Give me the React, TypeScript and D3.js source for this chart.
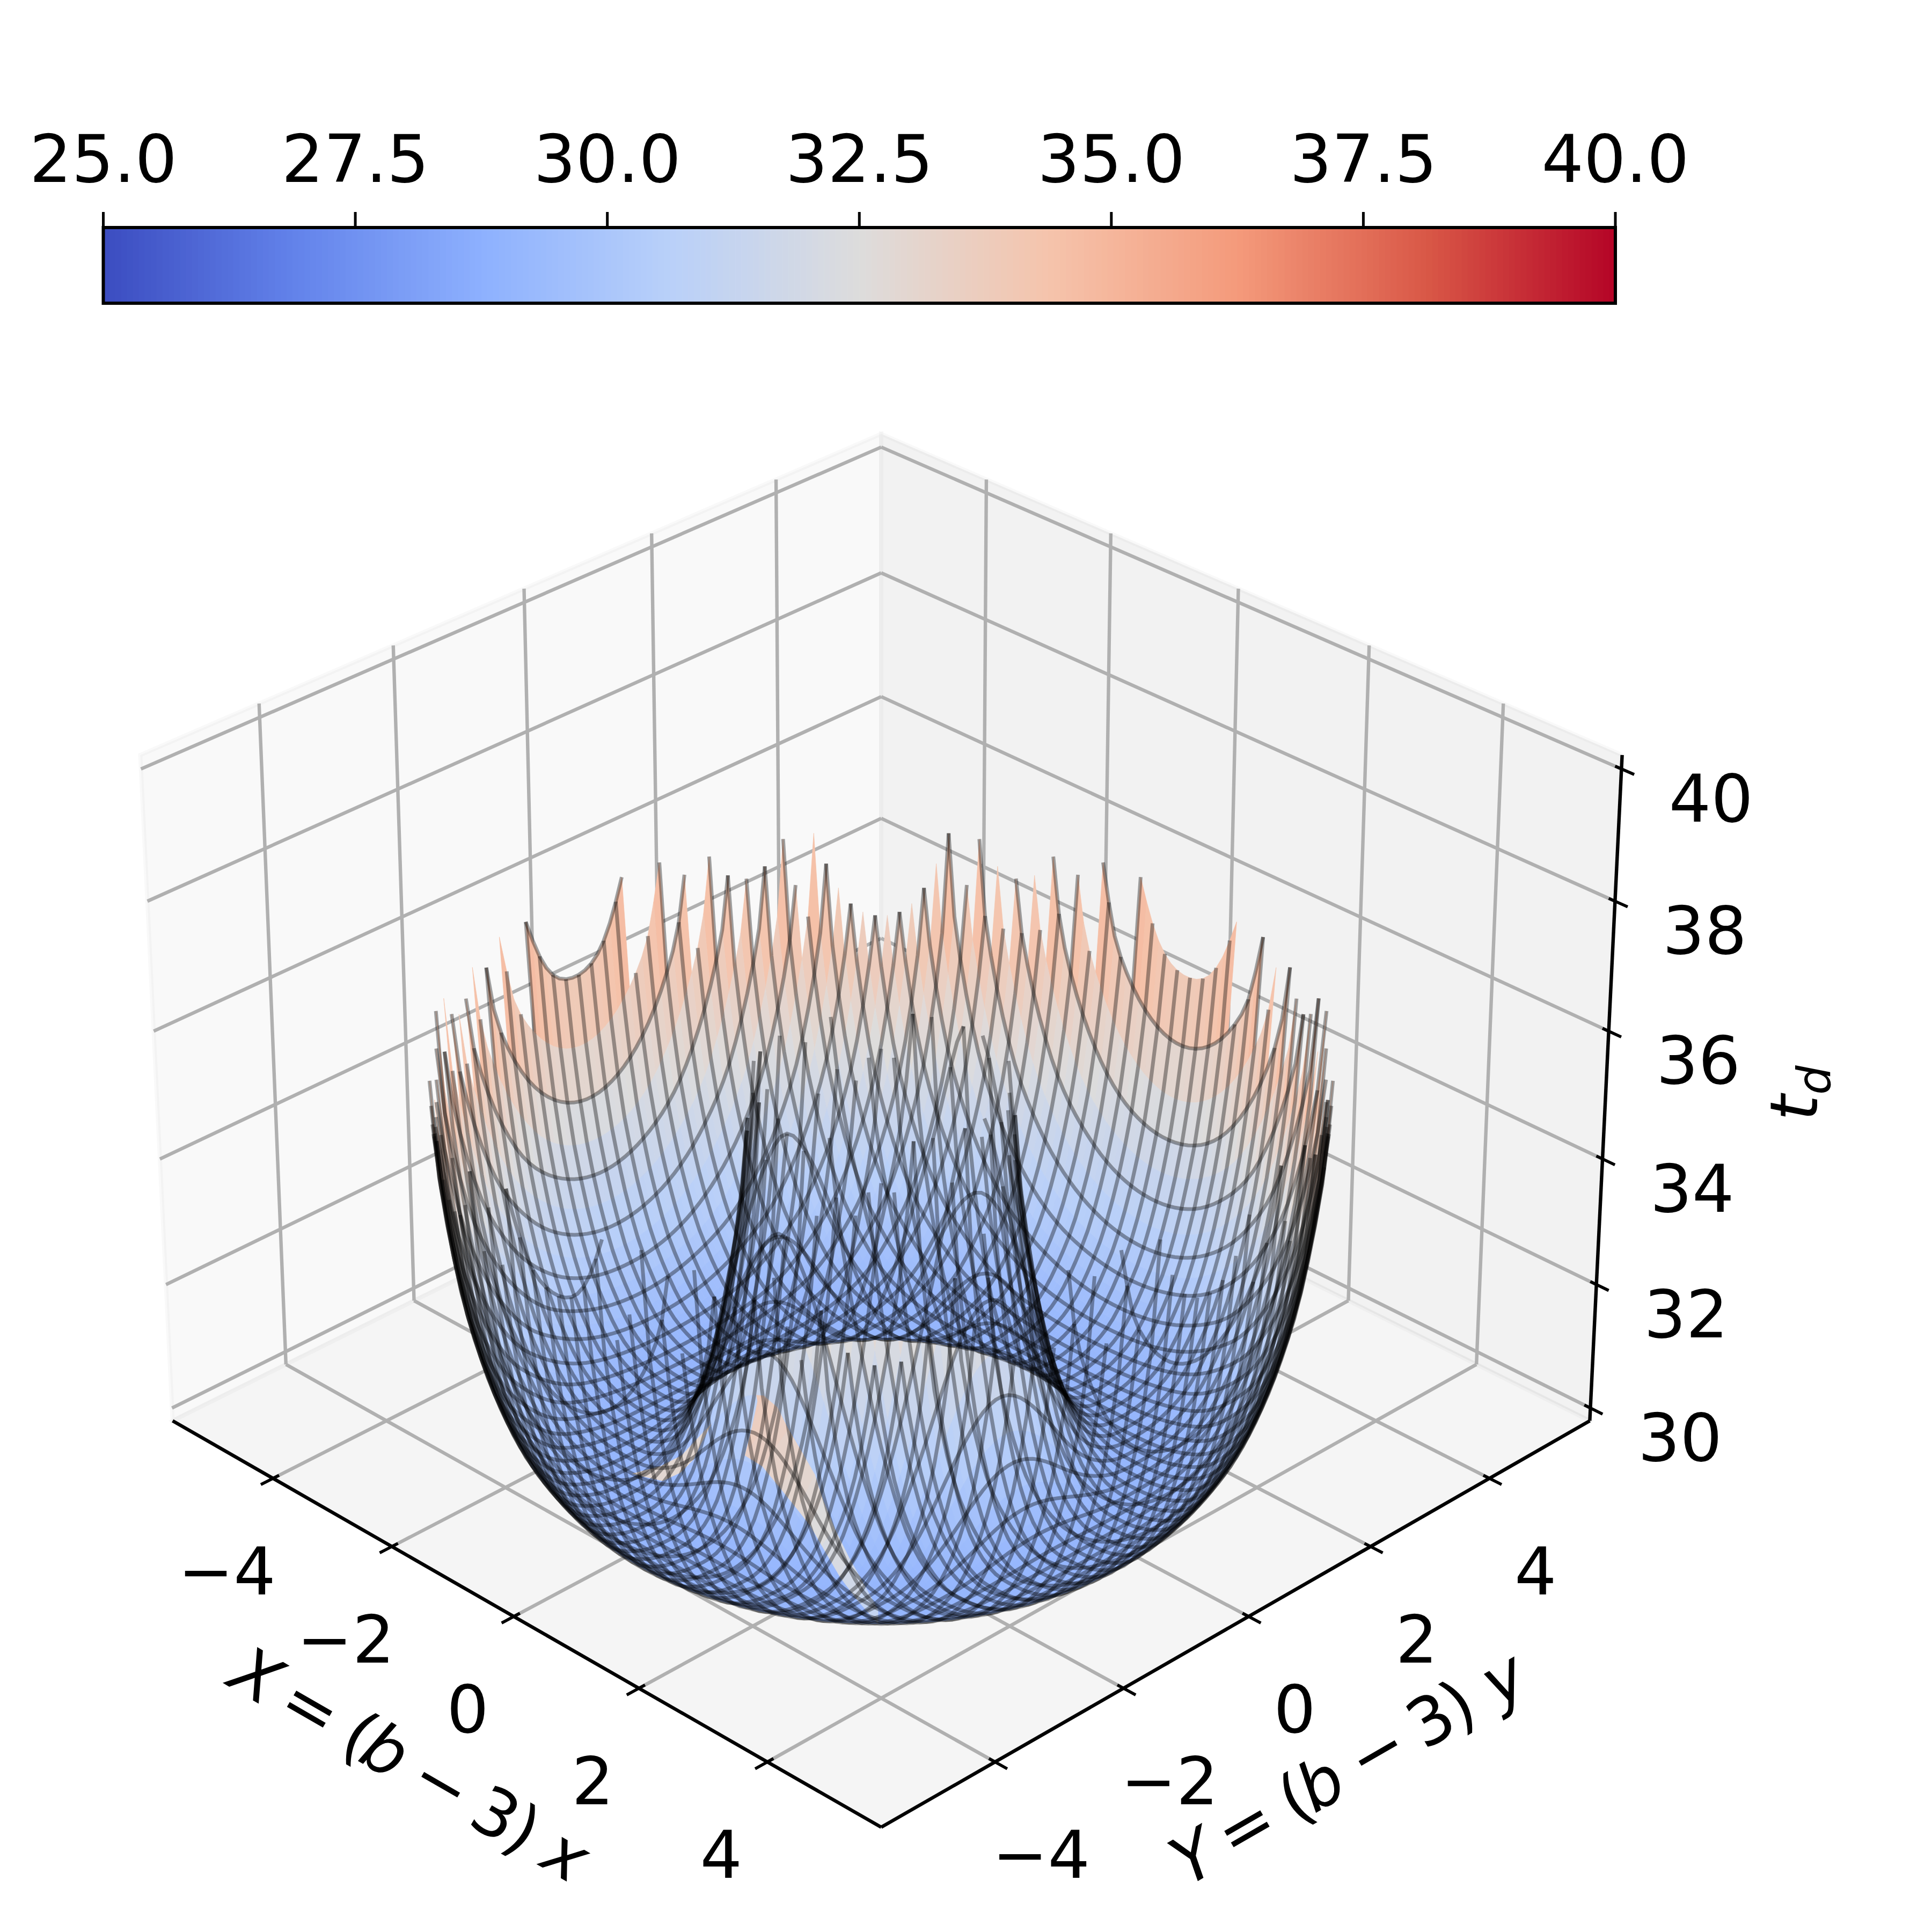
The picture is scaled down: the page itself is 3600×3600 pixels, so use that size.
import React from "react";
import * as d3 from "d3";

// ---- data ----
const colorbarTicks = [25, 27.5, 30, 32.5, 35, 37.5, 40];
const xyTicks = [-4, -2, 0, 2, 4];
const zTicks = [30, 32, 34, 36, 38, 40];
// radial profile of the surface t_d(r)
const profileR = [1.3, 1.45, 1.52, 1.6, 1.8, 2.0, 2.27, 2.6, 3.0, 3.4, 3.8, 4.19, 4.39, 4.6, 4.8, 5.0, 5.06, 5.2];
const profileZ = [37.5, 35.7, 34.3, 33.2, 31.6, 30.5, 29.6, 29.17, 29.1, 29.2, 29.5, 30.16, 30.7, 31.5, 32.6, 34.45, 35.75, 39];
const surfaceClip = 35.85;
const innerRadius = 1.47;
const gridCount = 100;
const gridHalf = 5;
const wireStride = 2;
const coolwarmStops = ["#3b4cc0", "#6282ea", "#8db0fe", "#b9d0f9", "#dddcdc", "#f5c4ac", "#f49a7b", "#d95847", "#b40426"];
// pale streaks left on the front of the bowl (floor position, and the value that colours them)
const streakRightX = [-1.205, -1.135, -0.85, -0.42, 0.05, 0.47, 0.895, 1.415, 1.95, 2.5, 2.93];
const streakRightY = [-0.815, -0.765, -0.83, -1.07, -1.31, -1.53, -1.825, -2.155, -2.46, -2.75, -2.98];
const streakLeftX = [-1.1, -0.78, -0.375, -0.075, 0.39, 0.86, 1.19, 1.58, 2.175, 2.635, 3.125];
const streakLeftY = [-0.9, -1.29, -1.805, -1.825, -2.0, -2.18, -2.31, -2.51, -2.815, -3.005, -3.175];
const streakValue = [33.8, 33.8, 33.6, 33.4, 33.2, 33.0, 32.8, 32.5, 32.2, 31.8, 31.2];
const sliverX = [-1.13, -1.04, -0.885, -0.89, -1.005, -0.85, -0.645, -0.63, -0.725, -0.92];
const sliverY = [-1.6, -1.87, -2.315, -2.64, -2.975, -2.92, -2.835, -2.57, -2.275, -1.96];
const sliverValue = 32.9;

// ---- geometry ----
const W = 3600;
const limXY = 5.5;
const limZ = [30, 40];
const padXY = (2 * limXY) / 48;
const padZ = (limZ[1] - limZ[0]) / 48;
const eyeDist = 10;
const boxScale = 1.8294640721620434 / Math.hypot(4, 4, 3);
const bx = 4 * boxScale;
const bz = 3 * boxScale;
const wx = d3.scaleLinear([-limXY, limXY], [-bx / 2, bx / 2]);
const wz = d3.scaleLinear(limZ, [-bz / 2, bz / 2]);
const el = (30 * Math.PI) / 180;
const az = (-45 * Math.PI) / 180;
const n = [Math.cos(el) * Math.cos(az), Math.cos(el) * Math.sin(az), Math.sin(el)];
const u = [Math.SQRT1_2, Math.SQRT1_2, 0];
const v = [n[1] * u[2] - n[2] * u[1], n[2] * u[0] - n[0] * u[2], n[0] * u[1] - n[1] * u[0]];
const screenScale = 16035;
const cx = 1642;
const cy = 2041;

function project(X: number, Y: number, Z: number) {
  const p = [wx(X), wx(Y), wz(Z)];
  const dot = (a: number[]) => a[0] * p[0] + a[1] * p[1] + a[2] * p[2];
  const depth = eyeDist - dot(n);
  return [cx + (screenScale * dot(u)) / depth, cy - (screenScale * dot(v)) / depth, depth];
}

// cubic lookup along the profile
const slopes = profileR.map((r, i) => {
  const a = Math.max(i - 1, 0);
  const b = Math.min(i + 1, profileR.length - 1);
  return (profileZ[b] - profileZ[a]) / (profileR[b] - profileR[a]);
});
function profile(r: number) {
  if (r <= profileR[0] || r >= profileR[profileR.length - 1]) return NaN;
  const i = d3.bisectRight(profileR, r) - 1;
  const h = profileR[i + 1] - profileR[i];
  const t = (r - profileR[i]) / h;
  const t2 = t * t;
  const t3 = t2 * t;
  return (
    (2 * t3 - 3 * t2 + 1) * profileZ[i] +
    (t3 - 2 * t2 + t) * h * slopes[i] +
    (-2 * t3 + 3 * t2) * profileZ[i + 1] +
    (t3 - t2) * h * slopes[i + 1]
  );
}

const gridValues = d3.range(gridCount).map((i) => -gridHalf + (2 * gridHalf * i) / (gridCount - 1));
const zGrid = gridValues.map((X) =>
  gridValues.map((Y) => {
    const r = Math.hypot(X, Y);
    if (r < innerRadius) return NaN;
    const z = profile(r);
    return z <= surfaceClip ? z : NaN;
  })
);

const colorStep = d3.scaleLinear<string>()
  .domain(coolwarmStops.map((_, i) => i / (coolwarmStops.length - 1)))
  .range(coolwarmStops)
  .interpolate(d3.interpolateRgb);
const colorNorm = d3.scaleLinear([25, 40], [0, 1]);
const colorOf = (z: number) => colorStep(colorNorm(z));

type Cell = { d: string; color: string; depth: number };
const cells: Cell[] = [];
for (let i = 0; i < gridCount - 1; i++) {
  for (let j = 0; j < gridCount - 1; j++) {
    const corners = [[i, j], [i + 1, j], [i + 1, j + 1], [i, j + 1]].filter(([a, b]) => !isNaN(zGrid[a][b]));
    if (corners.length < 4) continue;
    const pts = corners.map(([a, b]) => project(gridValues[a], gridValues[b], zGrid[a][b]));
    const avgZ = d3.mean(corners, ([a, b]) => zGrid[a][b]) as number;
    cells.push({
      d: "M" + pts.map((q) => q[0].toFixed(1) + "," + q[1].toFixed(1)).join("L") + "Z",
      color: colorOf(avgZ),
      depth: d3.mean(pts, (q) => q[2]) as number,
    });
  }
}
cells.sort((a, b) => a.depth - b.depth);

const wireLine = d3.line<{ x: number; y: number; ok: boolean }>()
  .defined((d) => d.ok)
  .x((d) => d.x)
  .y((d) => d.y);
const wirePaths: string[] = [];
for (let i = 0; i < gridCount; i += wireStride) {
  wirePaths.push(
    wireLine(gridValues.map((Y, j) => {
      const z = zGrid[i][j];
      const q = project(gridValues[i], Y, isNaN(z) ? 30 : z);
      return { x: q[0], y: q[1], ok: !isNaN(z) };
    })) as string
  );
  wirePaths.push(
    wireLine(gridValues.map((X, j) => {
      const z = zGrid[j][i];
      const q = project(X, gridValues[i], isNaN(z) ? 30 : z);
      return { x: q[0], y: q[1], ok: !isNaN(z) };
    })) as string
  );
}

const lo = -limXY - padXY;
const hi = limXY + padXY;
const zLo = limZ[0] - padZ;
const zHi = limZ[1] + padZ;
const poly = (pts: number[][]) => pts.map((q) => { const s = project(q[0], q[1], q[2]); return s[0] + "," + s[1]; }).join(" ");
const seg = (a: number[], b: number[], key: string, stroke: string, sw: number) => {
  const s = project(a[0], a[1], a[2]);
  const t = project(b[0], b[1], b[2]);
  return <line key={key} x1={s[0]} y1={s[1]} x2={t[0]} y2={t[1]} stroke={stroke} strokeWidth={sw} />;
};

const gridColor = "#b0b0b0";
const gridW = 6.4;
const axisW = 6.4;
const tickW = 5.6;
const fontFamily = "'DejaVu Sans'";
const fontSize = 123.5;
const capShift = 45;
const tickDelta = (2 * limXY) / 12;
const barScale = d3.scaleLinear([25, 40], [192.5, 3010]);
const barTop = 424;
const barBottom = 565;
const paneEdge = { stroke: "#000", strokeOpacity: 0.025, strokeWidth: 8 };

function MathLabel({ first, last, lastDx, x, y, angle }: { first: string; last: string; lastDx: number; x: number; y: number; angle: number }) {
  return (
    <text transform={`translate(${x},${y}) rotate(${angle})`} y={capShift}>
      <tspan fontStyle="italic">{first}</tspan>
      <tspan dx="23">=</tspan>
      <tspan dx="30">(</tspan>
      <tspan dx="-8" fontStyle="italic">b</tspan>
      <tspan dx="30">{"\u2212"}</tspan>
      <tspan dx="25">3</tspan>
      <tspan dx="-4">)</tspan>
      <tspan dx={lastDx} fontStyle="italic">{last}</tspan>
    </text>
  );
}

export default function App() {
  const barSteps = d3.range(256);
  const stepW = (barScale(40) - barScale(25)) / 256;
  return (
    <svg width={W} height={W} viewBox={`0 0 ${W} ${W}`} style={{ position: "absolute", left: 0, top: 0, background: "#fff" }}>
      {/* panes */}
      <polygon points={poly([[lo, lo, zLo], [lo, hi, zLo], [lo, hi, zHi], [lo, lo, zHi]])} fill="#f9f9f9" {...paneEdge} />
      <polygon points={poly([[lo, hi, zLo], [hi, hi, zLo], [hi, hi, zHi], [lo, hi, zHi]])} fill="#f2f2f2" {...paneEdge} />
      <polygon points={poly([[lo, lo, zLo], [hi, lo, zLo], [hi, hi, zLo], [lo, hi, zLo]])} fill="#f5f5f5" {...paneEdge} />
      {/* grid */}
      {xyTicks.map((t) => (
        <g key={"g" + t}>
          {seg([t, lo, zLo], [t, hi, zLo], "a", gridColor, gridW)}
          {seg([t, hi, zLo], [t, hi, zHi], "b", gridColor, gridW)}
          {seg([lo, t, zLo], [hi, t, zLo], "c", gridColor, gridW)}
          {seg([lo, t, zLo], [lo, t, zHi], "d", gridColor, gridW)}
        </g>
      ))}
      {zTicks.map((t) => (
        <g key={"z" + t}>
          {seg([lo, lo, t], [lo, hi, t], "a", gridColor, gridW)}
          {seg([lo, hi, t], [hi, hi, t], "b", gridColor, gridW)}
        </g>
      ))}
      {/* axes */}
      {seg([lo, lo, zLo], [hi, lo, zLo], "ax", "#000", axisW)}
      {seg([hi, lo, zLo], [hi, hi, zLo], "ay", "#000", axisW)}
      {seg([hi, hi, zLo], [hi, hi, zHi], "az", "#000", axisW)}
      {xyTicks.map((t) => (
        <g key={"t" + t}>
          {seg([t, lo + 0.1 * tickDelta, zLo], [t, lo - 0.2 * tickDelta, zLo], "x", "#000", tickW)}
          {seg([hi - 0.1 * tickDelta, t, zLo], [hi + 0.2 * tickDelta, t, zLo], "y", "#000", tickW)}
        </g>
      ))}
      {zTicks.map((t) => (
        <g key={"zt" + t}>{seg([hi - 0.1 * tickDelta, hi, t], [hi + 0.2 * tickDelta, hi, t], "z", "#000", tickW)}</g>
      ))}
      {/* surface */}
      <g>
        {cells.map((c, i) => (
          <path key={i} d={c.d} fill={c.color} stroke={c.color} strokeWidth={0.7} />
        ))}
      </g>
      {/* streaks */}
      <g>
        {streakValue.slice(1).map((val, i) => {
          const c = colorOf(val);
          const pts = [
            [streakRightX[i], streakRightY[i], 30],
            [streakRightX[i + 1], streakRightY[i + 1], 30],
            [streakLeftX[i + 1], streakLeftY[i + 1], 30],
            [streakLeftX[i], streakLeftY[i], 30],
          ];
          return <polygon key={i} points={poly(pts)} fill={c} stroke={c} strokeWidth={0.7} />;
        })}
        <polygon points={poly(sliverX.map((x, i) => [x, sliverY[i], 30]))} fill={colorOf(sliverValue)} />
      </g>
      {/* wireframe */}
      <g fill="none" stroke="#000" strokeOpacity={0.36} strokeWidth={7}>
        {wirePaths.map((d, i) => (
          <path key={i} d={d} />
        ))}
      </g>
      {/* tick labels */}
      <g fontFamily={fontFamily} fontSize={fontSize} textAnchor="middle" fill="#000">
        {xyTicks.map((t) => {
          const a = project(t, lo, zLo);
          const b = project(hi, t, zLo);
          const txt = t < 0 ? "\u2212" + Math.abs(t) : String(t);
          return (
            <g key={"l" + t}>
              <text x={a[0] - 86} y={a[1] + 171 + capShift}>{txt}</text>
              <text x={b[0] + 86} y={b[1] + 171 + capShift}>{txt}</text>
            </g>
          );
        })}
        {zTicks.map((t) => {
          const a = project(hi, hi, t);
          return <text key={"lz" + t} x={a[0] + 167} y={a[1] + 53 + capShift}>{t}</text>;
        })}
      </g>
      {/* axis labels */}
      <g fontFamily={fontFamily} fontSize={fontSize} fill="#000" textAnchor="middle">
        <MathLabel first="X" last="x" lastDx={32} x={765} y={3286} angle={30} />
        <MathLabel first="Y" last="y" lastDx={36} x={2511} y={3292} angle={-30} />
        <text transform="translate(3353,2037) rotate(-90)" y={capShift - 12}>
          <tspan fontStyle="italic">t</tspan>
          <tspan fontStyle="italic" fontSize={86} dy="24">d</tspan>
        </text>
      </g>
      {/* colorbar */}
      <g>
        {barSteps.map((i) => (
          <rect key={i} x={barScale(25) + i * stepW} y={barTop} width={stepW + 0.6} height={barBottom - barTop} fill={colorStep((i + 0.5) / 256)} />
        ))}
        <rect x={barScale(25)} y={barTop} width={barScale(40) - barScale(25)} height={barBottom - barTop} fill="none" stroke="#000" strokeWidth={6} />
        {colorbarTicks.map((t) => (
          <g key={"c" + t}>
            <line x1={barScale(t)} x2={barScale(t)} y1={barTop} y2={barTop - 29} stroke="#000" strokeWidth={5} />
            <text x={barScale(t)} y={339} textAnchor="middle" fontFamily={fontFamily} fontSize={fontSize} fill="#000">{t.toFixed(1)}</text>
          </g>
        ))}
      </g>
    </svg>
  );
}
